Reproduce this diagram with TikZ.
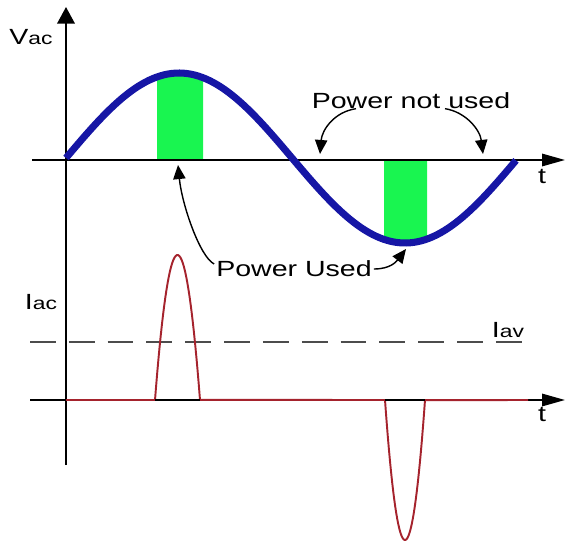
\documentclass[tikz,border=0pt]{standalone}
\usepackage{fontspec}
\setmainfont{Liberation Sans}
\usepackage{graphicx}
\usetikzlibrary{arrows.meta, positioning}
\definecolor{wavebl}{RGB}{22,22,165}
\definecolor{usedgreen}{RGB}{25,245,80}
\definecolor{currred}{RGB}{165,35,45}
\newcommand{\wide}[1]{\scalebox{1.3}[1]{#1}}

\begin{document}
\begin{tikzpicture}[x=0.02cm, y=-0.02cm, >=Stealth,
    vaxis/.style={line width=1.1pt, -{Triangle[length=9.5pt, width=10pt]}},
    haxis/.style={line width=1.1pt, -{Triangle[length=13pt, width=7pt]}},
    note/.style={line width=0.8pt, -{Triangle[length=8pt, width=7pt]}},
    lbl/.style={inner sep=1pt, font=\fontsize{12.5}{14}\selectfont}]
    \useasboundingbox (0,0) rectangle (567,544);

    % Green areas where the voltage is near its peak
    \fill[usedgreen] (157,160) -- plot[domain=157:203, samples=20] (\x, {158-85*sin((\x-66)/452*360)}) -- (203,160) -- cycle;
    \fill[usedgreen] (384,160) -- plot[domain=384:427, samples=20] (\x, {158-85*sin((\x-66)/452*360)}) -- (427,160) -- cycle;

    % Axes
    \draw[vaxis] (66,465) -- (66,7);
    \draw[haxis] (32,160) -- (565,160);
    \draw[haxis] (30,400) -- (565,400);

    % Supply voltage
    \draw[wavebl, line width=4pt] plot[domain=66:516, samples=120] (\x, {158-85*sin((\x-66)/452*360)});

    % Average current level
    \draw[gray!60!black, line width=0.7pt, dash pattern=on 14.7pt off 7.4pt] (30,342) -- (527,342);

    % Current pulses
    \draw[currred, line width=1.1pt] (66,400) -- (155,400)
        -- plot[domain=-1:1, samples=40] ({177.5+22.5*\x}, {400-145*(1-\x*\x)})
        -- (385,400)
        -- plot[domain=-1:1, samples=40] ({405+20*\x}, {400+140*(1-\x*\x)})
        -- (528,400);
    \draw[line width=1.6pt] (155,400) -- (200,400);
    \draw[line width=1.6pt] (385,400) -- (425,400);

    % Labels
    \node[lbl] (vac) at (31,37) {\wide{V{\fontsize{10}{10}\selectfont ac}}};
    \node[lbl] (iac) at (41,302) {\wide{I{\fontsize{10}{10}\selectfont ac}}};
    \node[lbl] (iav) at (508,330) {\wide{I{\fontsize{10}{10}\selectfont av}}};
    \node[lbl] (t1) at (542,176) {\wide{t}};
    \node[lbl] (t2) at (542,414) {\wide{t}};
    \node[lbl] (notused) at (411,101) {\wide{Power not used}};
    \node[lbl] (used) at (294,269) {\wide{Power Used}};

    % Pointers
    \coordinate (nuL) at (320,154);
    \coordinate (nuR) at (483,154);
    \coordinate (uTop) at (178,165);
    \coordinate (uBot) at (406,249);
    \draw[note] ([xshift=-1.1cm, yshift=0.05cm]notused.south) .. controls (334,112) and (322,130) .. (nuL);
    \draw[note] ([xshift=0.68cm, yshift=0.05cm]notused.south) .. controls (466,112) and (480,130) .. (nuR);
    \draw[note] ([yshift=0.1cm]used.west) .. controls (200,257) and (182,205) .. (uTop);
    \draw[note] (used.east) .. controls (390,269) and (396,262) .. (uBot);
\end{tikzpicture}
\end{document}
